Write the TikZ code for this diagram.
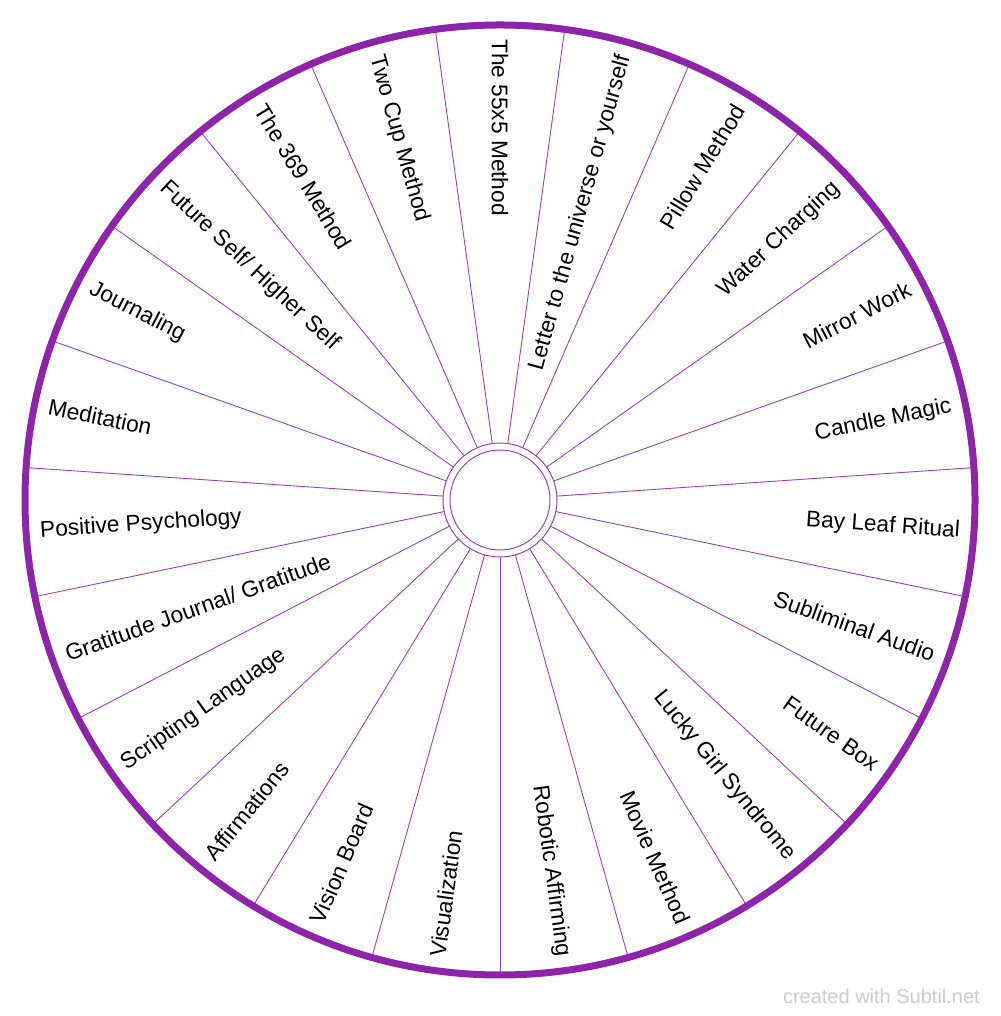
\documentclass[tikz,border=0pt]{standalone}
\usepackage{fontspec}
\setmainfont{Liberation Sans}
\usetikzlibrary{calc}
\definecolor{wheelpurple}{HTML}{8E24AA}
\definecolor{spokepurple}{HTML}{9C3FC0}
\definecolor{markgray}{HTML}{CCCCCC}
\tikzset{
  rim/.style={draw=wheelpurple, line width=7pt},
  spokeline/.style={draw=spokepurple, line width=0.9pt},
  hubline/.style={draw=spokepurple, line width=1pt},
  segtext/.style={inner sep=0pt, font=\fontsize{22.7}{26}\selectfont, text=black},
  marktext/.style={inner sep=0pt, font=\fontsize{20}{24}\selectfont, text=markgray}
}
\begin{document}
\begin{tikzpicture}[x=1pt,y=1pt]
\useasboundingbox (0,0) rectangle (1000,1016);
\fill[white] (0,0) rectangle (1000,1016);
\coordinate (c) at (500,516);
% spokes
\foreach \k in {0,...,22}{
  \pgfmathsetmacro{\a}{90-(2*\k+1)*180/23}
  \draw[spokeline] ($(c)+(\a:57)$) -- ($(c)+(\a:475)$);
}
% hub
\draw[hubline] (c) circle (57);
\draw[hubline] (c) circle (50);
% rim
\draw[rim] (c) circle (475);
% labels
\foreach \k/\txt in {0/{The 55x5 Method},1/{Letter to the universe or yourself},2/{Pillow Method},3/{Water Charging},4/{Mirror Work},5/{Candle Magic},6/{Bay Leaf Ritual},7/{Subliminal Audio},8/{Future Box},9/{Lucky Girl Syndrome},10/{Movie Method},11/{Robotic Affirming},12/{Visualization},13/{Vision Board},14/{Affirmations},15/{Scripting Language},16/{Gratitude Journal/ Gratitude},17/{Positive Psychology},18/{Meditation},19/{Journaling},20/{Future Self/ Higher Self},21/{The 369 Method},22/{Two Cup Method}}{
  \pgfmathsetmacro{\a}{90-\k*360/23}
  \pgfmathtruncatemacro{\side}{cos(\a)>0.001 ? 1 : 0}
  \ifnum\side=1
    \node[segtext, anchor=east, rotate=\a] (t\k) at ($(c)+(\a:461)$) {\txt};
  \else
    \node[segtext, anchor=west, rotate=\a+180] (t\k) at ($(c)+(\a:461)$) {\txt};
  \fi
}
\node[marktext, anchor=east] (mark) at (980,20) {created with Subtil.net};
\end{tikzpicture}
\end{document}
